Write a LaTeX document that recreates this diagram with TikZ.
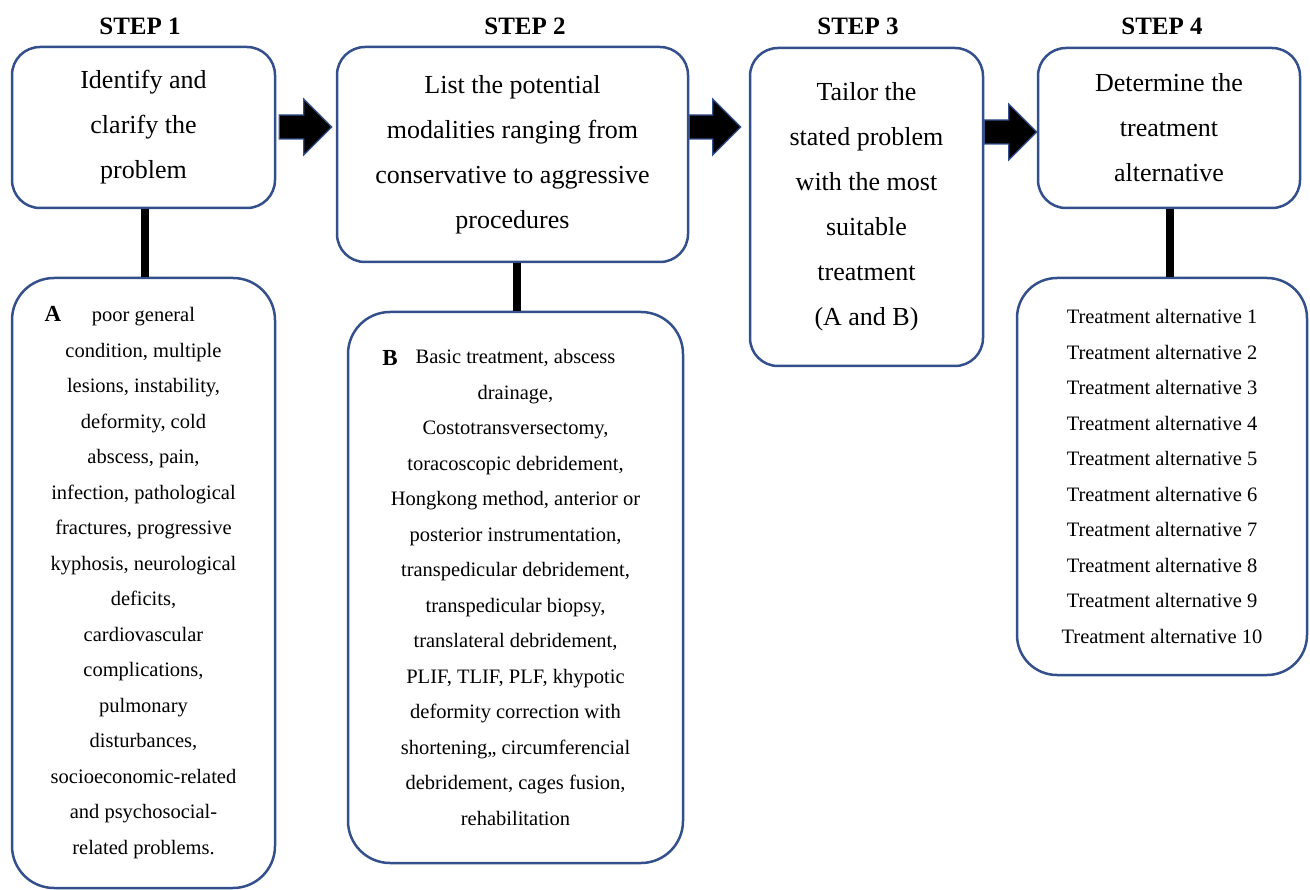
\documentclass[tikz,border=0pt]{standalone}
\usepackage{fontspec}
\setmainfont{Liberation Serif}
\usetikzlibrary{calc}
\definecolor{boxblue}{RGB}{52,80,140}
\tikzset{
  stepbox/.style={draw=boxblue, line width=2.5pt, rounded corners=28pt, fill=white,
    align=center, inner sep=0pt, font=\fontsize{26}{45}\selectfont},
  listbox/.style={draw=boxblue, line width=2.5pt, rounded corners=42pt, fill=white,
    align=center, inner sep=0pt, font=\fontsize{20.5}{35.5}\selectfont},
  heading/.style={font=\bfseries\fontsize{25}{30}\selectfont, inner sep=0pt},
  letter/.style={font=\bfseries\fontsize{23}{26}\selectfont, inner sep=0pt},
  conn/.style={line width=8pt, black},
  blockarrow/.style={fill=black, draw=boxblue, line width=1.2pt, line join=miter}
}
\newcommand\blockarr[2]{%
  \filldraw[blockarrow] ($(#1)+(0,12)$) -- ($(#2)+(-28,12)$) -- ($(#2)+(-28,28)$) -- (#2)
    -- ($(#2)+(-28,-28)$) -- ($(#2)+(-28,-12)$) -- ($(#1)+(0,-12)$) -- cycle;}
\begin{document}
\begin{tikzpicture}[x=1pt,y=1pt]
\fill[white] (0,0) rectangle (1310,-890);
\useasboundingbox (0,0) rectangle (1310,-890);

% headings
\node[heading] (h1) at (140,-26) {STEP 1};
\node[heading] (h2) at (525,-26) {STEP 2};
\node[heading] (h3) at (858,-26) {STEP 3};
\node[heading] (h4) at (1162,-26) {STEP 4};

% step boxes
\node[stepbox, minimum width=263pt, minimum height=161pt] (s1) at (143.5,-127.5)
  {Identify and\\clarify the\\problem};
\node[stepbox, minimum width=351pt, minimum height=215pt] (s2) at (512.5,-154.5)
  {List the potential\\modalities ranging from\\conservative to aggressive\\procedures};
\node[stepbox, minimum width=233pt, minimum height=318pt] (s3) at (866.5,-207)
  {Tailor the\\stated problem\\with the most\\suitable\\treatment\\(A and B)};
\node[stepbox, minimum width=262pt, minimum height=160pt] (s4) at (1169,-128)
  {Determine the\\treatment\\alternative};

% list boxes
\node[listbox, minimum width=263pt, minimum height=610pt] (bA) at (143.5,-583)
  {poor general\\condition, multiple\\lesions, instability,\\deformity, cold\\abscess, pain,\\infection, pathological\\fractures, progressive\\kyphosis, neurological\\deficits,\\cardiovascular\\complications,\\pulmonary\\disturbances,\\socioeconomic-related\\and psychosocial-\\related problems.};
\node[letter] (lA) at (53,-314) {A};

\node[listbox, minimum width=335pt, minimum height=551pt] (bB) at (515.5,-587.5)
  {Basic treatment, abscess\\drainage,\\Costotransversectomy,\\toracoscopic debridement,\\Hongkong method, anterior or\\posterior instrumentation,\\transpedicular debridement,\\transpedicular biopsy,\\translateral debridement,\\PLIF, TLIF, PLF, khypotic\\deformity correction with\\shortening,, circumferencial\\debridement, cages fusion,\\rehabilitation};
\node[letter] (lB) at (390,-358) {B};

\node[listbox, minimum width=290pt, minimum height=397pt, rounded corners=40pt] (b4) at (1162,-476.5)
  {Treatment alternative 1\\Treatment alternative 2\\Treatment alternative 3\\Treatment alternative 4\\Treatment alternative 5\\Treatment alternative 6\\Treatment alternative 7\\Treatment alternative 8\\Treatment alternative 9\\Treatment alternative 10};

% vertical connectors
\draw[conn] (s1.south -| 145,0) -- (bA.north -| 145,0);
\draw[conn] (s2.south -| 517,0) -- (bB.north -| 517,0);
\draw[conn] (s4.south -| 1170,0) -- (b4.north -| 1170,0);

% block arrows between steps
\coordinate (a1s) at ($(s1.east |- 0,-127)+(3,0)$);
\coordinate (a1t) at ($(s2.west |- 0,-127)+(-4,0)$);
\coordinate (a2s) at ($(s2.east |- 0,-127)+(0,0)$);
\coordinate (a2t) at ($(s3.west |- 0,-127)+(-8,0)$);
\coordinate (a3s) at ($(s3.east |- 0,-132)+(0,0)$);
\coordinate (a3t) at ($(s4.west |- 0,-132)+(0,0)$);
\blockarr{a1s}{a1t}
\blockarr{a2s}{a2t}
\blockarr{a3s}{a3t}
\end{tikzpicture}
\end{document}
